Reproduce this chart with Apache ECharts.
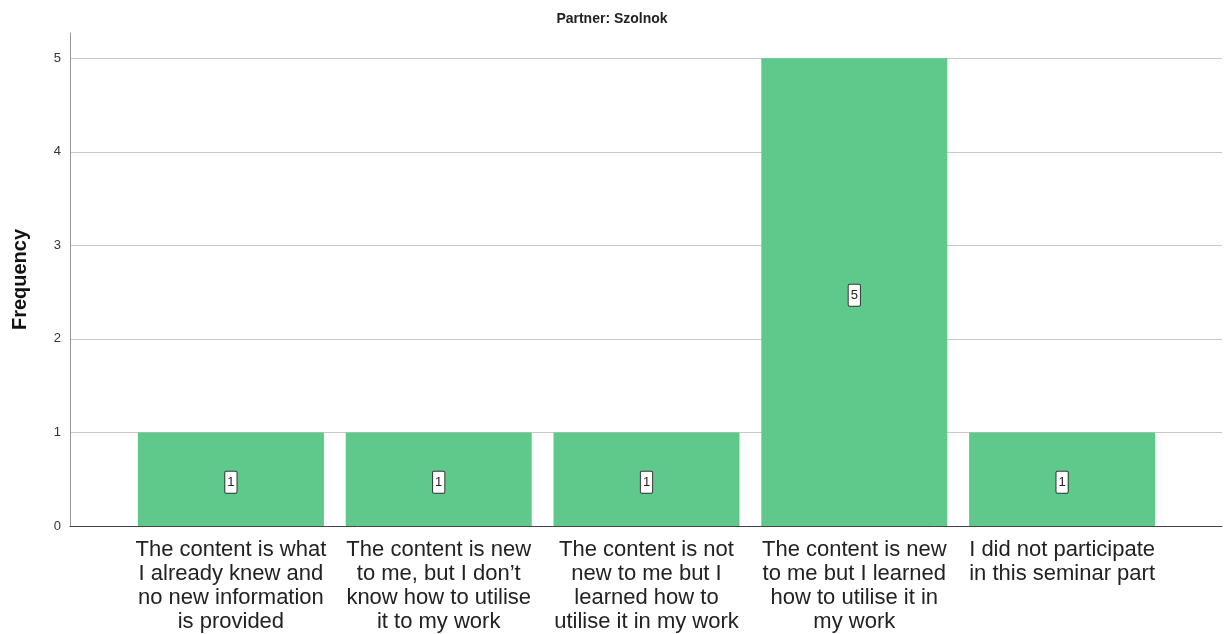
<!DOCTYPE html>
<html>
<head>
<meta charset="utf-8">
<script src="https://cdn.jsdelivr.net/npm/echarts@6/dist/echarts.min.js"></script>
<style>
  html, body { margin: 0; padding: 0; background: #fff; }
  #chart { width: 1224px; height: 634px; }
</style>
</head>
<body>
<div id="chart"></div>
<script>
var chartTitle = 'Partner: Szolnok';
var categories = [
  'The content is what\nI already knew and\nno new information\nis provided',
  'The content is new\nto me, but I don\u2019t\nknow how to utilise\nit to my work',
  'The content is not\nnew to me but I\nlearned how to\nutilise it in my work',
  'The content is new\nto me but I learned\nhow to utilise it in\nmy work',
  'I did not participate\nin this seminar part'
];
var frequencies = [1, 1, 1, 5, 1];
var yMax = 5.27;

var myChart = echarts.init(document.getElementById('chart'));

var option = {
  animation: false,
  backgroundColor: '#fff',
  title: {
    text: chartTitle,
    left: 'center',
    top: 7,
    textStyle: { fontFamily: 'Liberation Sans', fontSize: 14, fontWeight: 'bold', color: '#222' }
  },
  grid: [
    // background frame: y axis, gridlines, baseline
    { left: 70, right: 2, top: 33, bottom: 108, outerBoundsMode: 'none', containLabel: false },
    // bars
    { left: 127, right: 58, top: 33, bottom: 108, outerBoundsMode: 'none', containLabel: false }
  ],
  xAxis: [
    {
      gridIndex: 0,
      type: 'category',
      data: [''],
      axisLine: { lineStyle: { color: '#444', width: 1 } },
      axisTick: { show: false },
      axisLabel: { show: false }
    },
    {
      gridIndex: 1,
      type: 'category',
      data: categories,
      axisLine: { show: false },
      axisTick: { show: false },
      axisLabel: {
        interval: 0,
        margin: 12,
        fontFamily: 'Liberation Sans',
        fontSize: 22,
        lineHeight: 24,
        color: '#222'
      }
    }
  ],
  yAxis: [
    {
      gridIndex: 0,
      type: 'value',
      min: 0,
      max: yMax,
      interval: 1,
      name: 'Frequency',
      nameLocation: 'middle',
      nameGap: 40,
      nameTextStyle: { fontFamily: 'Liberation Sans', fontSize: 20, fontWeight: 'bold', color: '#111' },
      axisLine: { show: true, lineStyle: { color: '#999', width: 1 } },
      axisTick: { show: false },
      axisLabel: {
        margin: 9,
        fontFamily: 'Liberation Sans',
        fontSize: 13,
        color: '#333',
        showMaxLabel: false,
        formatter: function (v) { return Number.isInteger(v) ? String(v) : ''; }
      },
      splitLine: { show: true, showMinLine: false, showMaxLine: false, lineStyle: { color: '#c8c8c8', width: 1 } }
    },
    {
      gridIndex: 1,
      type: 'value',
      min: 0,
      max: yMax,
      show: false,
      splitLine: { show: false }
    }
  ],
  series: [
    {
      type: 'bar',
      xAxisIndex: 1,
      yAxisIndex: 1,
      data: frequencies,
      barWidth: 186,
      itemStyle: { color: '#5ec98b' },
      label: {
        show: true,
        position: 'inside',
        offset: [0, 3],
        fontFamily: 'Liberation Sans',
        fontSize: 13,
        color: '#222',
        backgroundColor: '#fff',
        borderColor: '#333',
        borderWidth: 1,
        borderRadius: 1,
        padding: [5, 2, 3, 2]
      }
    }
  ]
};

myChart.setOption(option);
</script>
</body>
</html>
